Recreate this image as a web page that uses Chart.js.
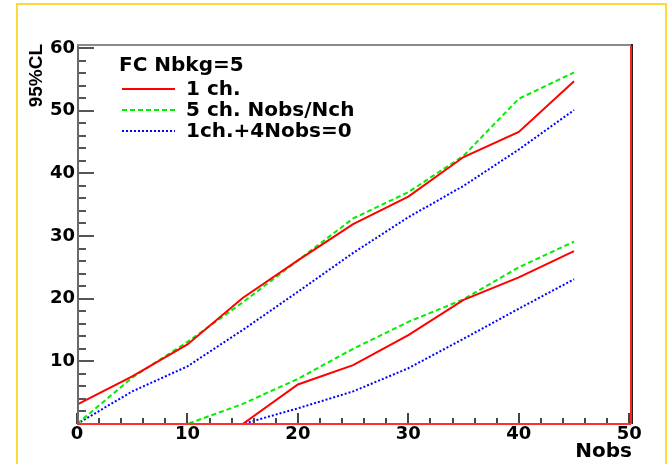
<!DOCTYPE html>
<html>
<head>
<meta charset="utf-8">
<script src="https://cdn.jsdelivr.net/npm/chart.js@4/dist/chart.umd.min.js"></script>
<style>
  html, body { margin: 0; padding: 0; background: #fff; }
  #wrap { width: 668px; height: 464px; }
</style>
</head>
<body>
<div id="wrap"><canvas id="myChart" width="668" height="464"></canvas></div>
<script>
// Nobs points where the limits were computed
const nobs = [0, 5, 10, 15, 20, 25, 30, 35, 40, 45];

// upper limits
const upper1ch = [3.1, 7.6, 12.7, 20.1, 26.1, 31.9, 36.3, 42.6, 46.6, 54.7];
const upper5ch = [0, 7.4, 13.1, 19.4, 26.1, 32.8, 37.0, 42.8, 51.9, 56.1];
const upper1ch4 = [0, 5.2, 9.2, 15.0, 21.1, 27.3, 33.0, 38.0, 43.8, 50.1];

// lower limits
const lower1ch = [0, 0, 0, 0, 6.3, 9.4, 14.2, 19.8, 23.4, 27.6];
const lower5ch = [0, 0, 0, 3.2, 7.2, 12.0, 16.3, 19.9, 25.0, 29.1];
const lower1ch4 = [0, 0, 0, 0, 2.5, 5.2, 8.9, 13.6, 18.4, 23.1];

// axis labels (the y zero is left to the x axis "0")
const xTicks = [0, 10, 20, 30, 40, 50];
const yTicks = [10, 20, 30, 40, 50, 60];

const legendTitle = 'FC Nbkg=5';
const legendLabels = ['1 ch.', '5 ch. Nobs/Nch', '1ch.+4Nobs=0'];

const styles = [
    { color: '#ff0000', dash: [] },
    { color: '#00ee00', dash: [5, 3] },
    { color: '#0000ff', dash: [2, 2] }
];

const WIDE = '"DejaVu Sans", sans-serif';
const NARROW = '"Liberation Sans", Arial, sans-serif';

function toPoints(ys) {
    return nobs.map((x, i) => ({ x: x, y: ys[i] }));
}

function makeSet(label, ys, k) {
    return {
        label: label,
        data: toPoints(ys),
        borderColor: styles[k].color,
        borderDash: styles[k].dash,
        borderWidth: 2,
        pointRadius: 0,
        fill: false,
        tension: 0
    };
}

// 2px lines as filled rects
function hline(ctx, x1, x2, y, color) {
    ctx.fillStyle = color;
    ctx.fillRect(Math.min(x1, x2), y - 1, Math.abs(x2 - x1), 2);
}
function vline(ctx, x, y1, y2, color) {
    ctx.fillStyle = color;
    ctx.fillRect(x - 1, Math.min(y1, y2), 2, Math.abs(y2 - y1));
}

// white page with the yellow pad border
const padBorder = {
    id: 'padBorder',
    beforeDraw(chart) {
        const ctx = chart.ctx;
        ctx.save();
        ctx.fillStyle = '#fff';
        ctx.fillRect(0, 0, chart.width, chart.height);
        vline(ctx, 17, 3, chart.height, '#ffd83a');
        hline(ctx, 16, 666, 4, '#ffd83a');
        vline(ctx, 666, 3, chart.height, '#ffd83a');
        ctx.restore();
    }
};

// frame and inward tick marks (major every 10, minor every 2)
const frameTicks = {
    id: 'frameTicks',
    afterDraw(chart) {
        const ctx = chart.ctx;
        const a = chart.chartArea;
        const xs = chart.scales.x;
        const ys = chart.scales.y;
        const L = Math.round(a.left), R = Math.round(a.right);
        const T = Math.round(a.top), B = Math.round(a.bottom);
        ctx.save();
        for (let v = 0; v <= 60; v += 2) {
            const y = Math.round(ys.getPixelForValue(v));
            hline(ctx, L, L + (v % 10 === 0 ? 17 : 9), y, '#555');
        }
        for (let v = 0; v <= 50; v += 2) {
            const x = Math.round(xs.getPixelForValue(v));
            vline(ctx, x, B - (v % 10 === 0 ? 11 : 6), B, '#444');
        }
        // frame: grey top/left, dark right edge, red base
        vline(ctx, L + 1, T, B, '#6a6a6a');
        hline(ctx, L, R, T + 1, '#8a8a8a');
        vline(ctx, R, T, B, '#222');
        vline(ctx, R - 1, T + 2, B, '#ff2020');
        hline(ctx, L, R - 1, B, '#ff3030');
        ctx.restore();
    }
};

// legend box in the upper left corner of the frame
const frameLegend = {
    id: 'frameLegend',
    afterDraw(chart) {
        const ctx = chart.ctx;
        ctx.save();
        ctx.fillStyle = '#000';
        ctx.font = 'bold 20px ' + WIDE;
        ctx.textBaseline = 'middle';
        ctx.fillText(legendTitle, 119, 66);
        const rows = [89, 110, 131];
        legendLabels.forEach((txt, i) => {
            ctx.strokeStyle = styles[i].color;
            ctx.setLineDash(styles[i].dash);
            ctx.lineWidth = 2;
            ctx.beginPath();
            ctx.moveTo(122, rows[i]);
            ctx.lineTo(175, rows[i]);
            ctx.stroke();
            ctx.setLineDash([]);
            ctx.fillStyle = '#000';
            ctx.fillText(txt, 186, rows[i] + 1);
        });
        ctx.restore();
    }
};

function drawChart() {
    const ctx = document.getElementById('myChart').getContext('2d');
    const chart = new Chart(ctx, {
        type: 'line',
        data: {
            datasets: [
                makeSet(legendLabels[0], upper1ch, 0),
                makeSet(legendLabels[1], upper5ch, 1),
                makeSet(legendLabels[2], upper1ch4, 2),
                makeSet(legendLabels[0] + ' low', lower1ch, 0),
                makeSet(legendLabels[1] + ' low', lower5ch, 1),
                makeSet(legendLabels[2] + ' low', lower1ch4, 2)
            ]
        },
        options: {
            responsive: false,
            animation: false,
            layout: { padding: { left: 0, top: 44, right: 36, bottom: 0 } },
            plugins: {
                legend: { display: false },
                tooltip: { enabled: false }
            },
            scales: {
                x: {
                    type: 'linear',
                    min: 0,
                    max: 50.25,
                    afterBuildTicks: (s) => { s.ticks = xTicks.map(v => ({ value: v })); },
                    afterFit: (s) => { s.height = 40; },
                    grid: { display: false, drawTicks: false },
                    border: { display: false },
                    ticks: {
                        color: '#000',
                        padding: 0,
                        maxRotation: 0,
                        font: { family: WIDE, size: 18, weight: 'bold' }
                    },
                    title: {
                        display: true,
                        text: 'Nobs',
                        align: 'end',
                        color: '#000',
                        padding: { top: 0, bottom: 0 },
                        font: { family: WIDE, size: 20, weight: 'bold' }
                    }
                },
                y: {
                    type: 'linear',
                    min: 0,
                    max: 60.64,
                    afterBuildTicks: (s) => { s.ticks = yTicks.map(v => ({ value: v })); },
                    afterFit: (s) => { s.width = 77; },
                    grid: { display: false, drawTicks: false },
                    border: { display: false },
                    ticks: {
                        color: '#000',
                        padding: 2,
                        font: { family: WIDE, size: 18, weight: 'bold' }
                    },
                    title: {
                        display: true,
                        text: '95%CL',
                        align: 'end',
                        color: '#000',
                        padding: { top: 25, bottom: 0 },
                        font: { family: NARROW, size: 19, weight: 'bold' }
                    }
                }
            }
        },
        plugins: [padBorder, frameTicks, frameLegend]
    });
    return chart;
}

drawChart();
</script>
</body>
</html>
